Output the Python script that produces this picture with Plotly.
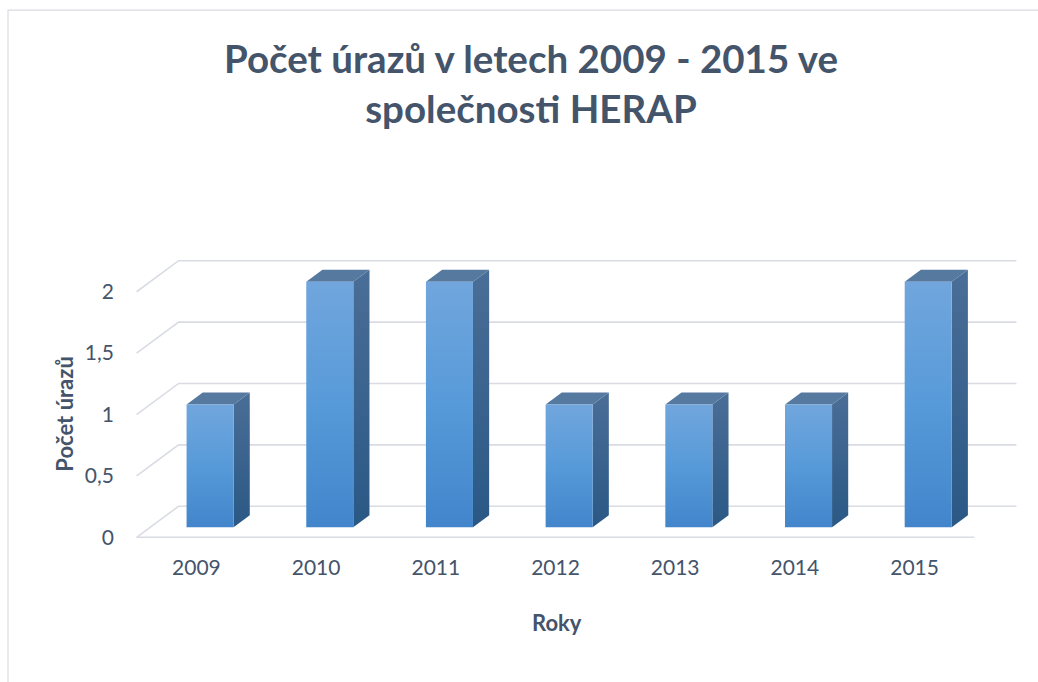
import plotly.graph_objects as go

# ---- data ----
years = ["2009", "2010", "2011", "2012", "2013", "2014", "2015"]
injuries = [1, 2, 2, 1, 1, 1, 2]
y_tick_vals = [0, 0.5, 1, 1.5, 2]
y_tick_text = ["0", "0,5", "1", "1,5", "2"]

title_text = "Počet úrazů v letech 2009 - 2015 ve<br>společnosti HERAP"
y_title = "Počet úrazů"
x_title = "Roky"

# ---- style / geometry ----
W, H = 1038, 682
TXT = "#44546A"
GRID = "#D9DCE3"
FONT = "Lato"

DX, DY = 0.351, 0.253          # depth of the floor (in axis units)
F1, F2 = 0.325, 0.71           # bar depth (front/back fraction)
BAR_W = 0.393

PX_X, PX_Y = 119.6, 122.6      # pixels per unit
ORIGIN_PX = (137, 537)         # pixel of (x=-0.5, y=0)

pad_x, pad_y = 0.03, 0.03
x_rng = [-0.5 - pad_x, len(years) - 0.5 + DX + pad_x]
y_rng = [0 - pad_y, max(y_tick_vals) + DY + pad_y]
ml = ORIGIN_PX[0] - pad_x * PX_X
pw = (x_rng[1] - x_rng[0]) * PX_X
mr = W - ml - pw
mb = H - ORIGIN_PX[1] - pad_y * PX_Y
ph = (y_rng[1] - y_rng[0]) * PX_Y
mt = H - mb - ph


def paper_x(px):
    return (px - ml) / pw


def paper_y(py):
    return (H - mb - py) / ph


fig = go.Figure()

# gridlines (perspective: front-left -> back wall)
x_left, x_right = -0.5, len(years) - 0.5
for v in y_tick_vals:
    if v == 0:
        gx = [x_right, x_left, x_left + DX, x_right + DX]
        gy = [0, 0, DY, DY]
    else:
        gx = [x_left, x_left + DX, x_right + DX]
        gy = [v, v + DY, v + DY]
    fig.add_trace(go.Scatter(x=gx, y=gy, mode="lines",
                             line=dict(color=GRID, width=1.6),
                             hoverinfo="skip", showlegend=False))

# 3D bars
bdx, bdy = (F2 - F1) * DX, (F2 - F1) * DY
y0 = F1 * DY
for i, v in enumerate(injuries):
    cx = i + F1 * DX
    xl, xr = cx - BAR_W / 2, cx + BAR_W / 2
    yt = y0 + v
    # side face
    fig.add_trace(go.Scatter(
        x=[xr, xr + bdx, xr + bdx, xr, xr], y=[y0, y0 + bdy, yt + bdy, yt, y0],
        mode="lines", fill="toself", line=dict(width=0),
        fillgradient=dict(type="vertical",
                          colorscale=[[0, "#2A5885"], [1, "#4A6E97"]]),
        hoverinfo="skip", showlegend=False))
    # top face
    fig.add_trace(go.Scatter(
        x=[xl, xr, xr + bdx, xl + bdx, xl], y=[yt, yt, yt + bdy, yt + bdy, yt],
        mode="lines", fill="toself", line=dict(width=0),
        fillcolor="#56799F",
        hoverinfo="skip", showlegend=False))
    # front face
    fig.add_trace(go.Scatter(
        x=[xl, xr, xr, xl, xl], y=[y0, y0, yt, yt, y0],
        mode="lines", fill="toself", line=dict(width=0),
        fillgradient=dict(type="vertical",
                          colorscale=[[0, "#4285CB"], [0.5, "#579AD9"], [1, "#71A6DD"]]),
        hovertext=f"{years[i]}: {v}", hoverinfo="text", showlegend=False))

fig.update_xaxes(range=x_rng, tickvals=list(range(len(years))), ticktext=years,
                 showgrid=False, zeroline=False, showline=False, ticks="",
                 ticklabelstandoff=12,
                 tickfont=dict(family=FONT, size=21, color=TXT))
fig.update_yaxes(range=y_rng, tickvals=y_tick_vals, ticktext=y_tick_text,
                 showgrid=False, zeroline=False, showline=False, ticks="",
                 ticklabelstandoff=18,
                 tickfont=dict(family=FONT, size=21, color=TXT))

fig.add_annotation(text=title_text, xref="paper", yref="paper",
                   x=paper_x(531), y=paper_y(83), xanchor="center", yanchor="middle",
                   showarrow=False,
                   font=dict(family=FONT, size=38.5, color=TXT, weight="bold"))
fig.add_annotation(text=x_title, xref="paper", yref="paper",
                   x=paper_x(557), y=paper_y(622), xanchor="center", yanchor="middle",
                   showarrow=False,
                   font=dict(family=FONT, size=22, color=TXT, weight="bold"))
fig.add_annotation(text=y_title, xref="paper", yref="paper",
                   x=paper_x(65), y=paper_y(414), xanchor="center", yanchor="middle",
                   showarrow=False, textangle=-90,
                   font=dict(family=FONT, size=22, color=TXT, weight="bold"))

# chart frame
fig.add_shape(type="rect", xref="paper", yref="paper",
              x0=paper_x(8.5), x1=paper_x(1060), y0=paper_y(690), y1=paper_y(10.5),
              line=dict(color="#D9DCE3", width=1.2), fillcolor="rgba(0,0,0,0)",
              layer="below")

fig.update_layout(
    width=W, height=H, autosize=False,
    margin=dict(l=ml, r=mr, t=mt, b=mb, pad=0),
    paper_bgcolor="white", plot_bgcolor="white",
    showlegend=False,
)

fig.write_html("out.html", config={"displayModeBar": False},
               post_script="document.body.style.margin='0';")
